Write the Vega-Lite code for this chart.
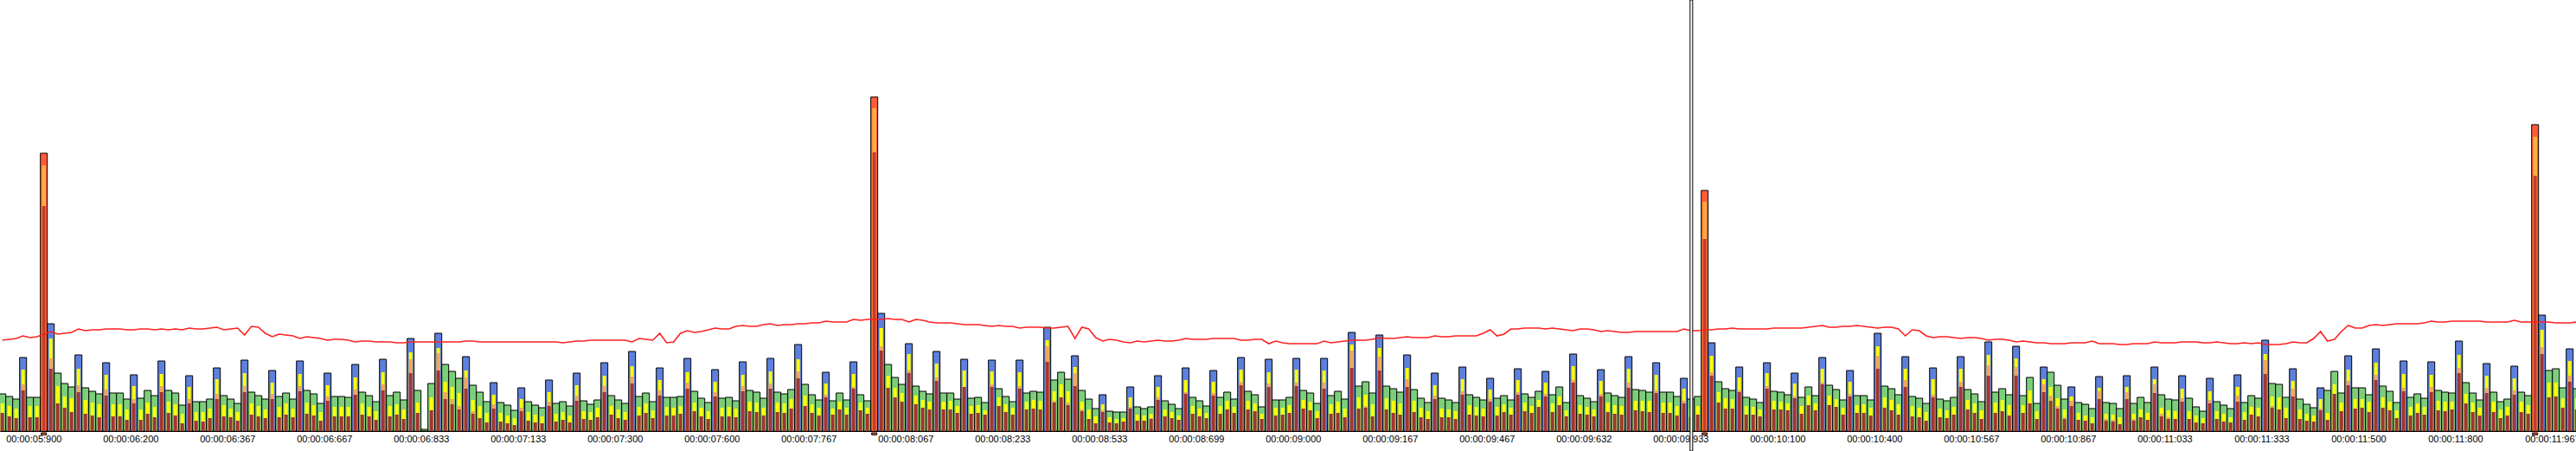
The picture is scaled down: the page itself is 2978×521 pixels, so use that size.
{
"$schema": "https://vega.github.io/schema/vega-lite/v6.json",
"width": 2978, "height": 521, "padding": 0, "autosize": "none",
"background": "white",
"config": {"view": {"stroke": null}},
"data": {"values": [
{"f":0,"k":"g","t":43,"r":21,"o":21,"yl":32,"a":105},
{"f":1,"k":"g","t":40,"r":17,"o":17,"yl":29,"a":106},
{"f":2,"k":"g","t":37,"r":15,"o":15,"yl":26,"a":107},
{"f":3,"k":"b","t":85,"r":47,"o":54,"yl":71,"a":110},
{"f":4,"k":"g","t":39,"r":16,"o":16,"yl":29,"a":108},
{"f":5,"k":"g","t":39,"r":16,"o":16,"yl":29,"a":109},
{"f":6,"k":"s","t":321,"r":260,"o":307,"yl":307,"a":112},
{"f":7,"k":"b","t":124,"r":72,"o":84,"yl":107,"a":115},
{"f":8,"k":"g","t":67,"r":32,"o":32,"yl":52,"a":112},
{"f":9,"k":"g","t":55,"r":27,"o":27,"yl":40,"a":113},
{"f":10,"k":"g","t":51,"r":22,"o":22,"yl":38,"a":114},
{"f":11,"k":"b","t":88,"r":45,"o":53,"yl":72,"a":118},
{"f":12,"k":"g","t":50,"r":20,"o":20,"yl":36,"a":116},
{"f":13,"k":"g","t":46,"r":18,"o":18,"yl":33,"a":117},
{"f":14,"k":"g","t":43,"r":16,"o":16,"yl":31,"a":117},
{"f":15,"k":"b","t":79,"r":41,"o":48,"yl":65,"a":118},
{"f":16,"k":"g","t":44,"r":17,"o":17,"yl":31,"a":118},
{"f":17,"k":"g","t":44,"r":17,"o":17,"yl":31,"a":118},
{"f":18,"k":"g","t":37,"r":13,"o":13,"yl":25,"a":117},
{"f":19,"k":"b","t":65,"r":32,"o":37,"yl":52,"a":117},
{"f":20,"k":"g","t":38,"r":13,"o":13,"yl":25,"a":118},
{"f":21,"k":"g","t":47,"r":20,"o":20,"yl":33,"a":118},
{"f":22,"k":"g","t":41,"r":16,"o":16,"yl":28,"a":117},
{"f":23,"k":"b","t":81,"r":45,"o":52,"yl":66,"a":118},
{"f":24,"k":"g","t":47,"r":21,"o":21,"yl":34,"a":117},
{"f":25,"k":"g","t":44,"r":18,"o":18,"yl":31,"a":118},
{"f":26,"k":"g","t":30,"r":9,"o":9,"yl":20,"a":117},
{"f":27,"k":"b","t":64,"r":32,"o":37,"yl":51,"a":119},
{"f":28,"k":"g","t":34,"r":12,"o":12,"yl":22,"a":118},
{"f":29,"k":"g","t":34,"r":11,"o":11,"yl":22,"a":118},
{"f":30,"k":"g","t":37,"r":15,"o":15,"yl":26,"a":119},
{"f":31,"k":"b","t":73,"r":37,"o":43,"yl":60,"a":120},
{"f":32,"k":"g","t":41,"r":17,"o":17,"yl":30,"a":117},
{"f":33,"k":"g","t":37,"r":16,"o":16,"yl":26,"a":118},
{"f":34,"k":"g","t":32,"r":12,"o":12,"yl":22,"a":119},
{"f":35,"k":"b","t":82,"r":45,"o":52,"yl":67,"a":111},
{"f":36,"k":"g","t":45,"r":19,"o":19,"yl":32,"a":121},
{"f":37,"k":"g","t":41,"r":17,"o":17,"yl":29,"a":120},
{"f":38,"k":"g","t":37,"r":15,"o":15,"yl":25,"a":113},
{"f":39,"k":"b","t":70,"r":37,"o":43,"yl":56,"a":109},
{"f":40,"k":"g","t":40,"r":16,"o":16,"yl":28,"a":112},
{"f":41,"k":"g","t":44,"r":19,"o":19,"yl":32,"a":111},
{"f":42,"k":"g","t":37,"r":16,"o":16,"yl":26,"a":110},
{"f":43,"k":"b","t":81,"r":46,"o":52,"yl":66,"a":107},
{"f":44,"k":"g","t":47,"r":20,"o":20,"yl":33,"a":109},
{"f":45,"k":"g","t":43,"r":18,"o":18,"yl":30,"a":108},
{"f":46,"k":"g","t":32,"r":12,"o":12,"yl":22,"a":107},
{"f":47,"k":"b","t":67,"r":35,"o":40,"yl":53,"a":105},
{"f":48,"k":"g","t":40,"r":17,"o":17,"yl":28,"a":106},
{"f":49,"k":"g","t":40,"r":17,"o":17,"yl":28,"a":106},
{"f":50,"k":"g","t":39,"r":17,"o":17,"yl":28,"a":105},
{"f":51,"k":"b","t":77,"r":42,"o":48,"yl":62,"a":103},
{"f":52,"k":"g","t":45,"r":19,"o":19,"yl":32,"a":104},
{"f":53,"k":"g","t":41,"r":17,"o":17,"yl":28,"a":104},
{"f":54,"k":"g","t":34,"r":13,"o":13,"yl":23,"a":103},
{"f":55,"k":"b","t":83,"r":47,"o":54,"yl":68,"a":103},
{"f":56,"k":"g","t":41,"r":17,"o":17,"yl":29,"a":103},
{"f":57,"k":"g","t":45,"r":19,"o":19,"yl":31,"a":102},
{"f":58,"k":"g","t":36,"r":14,"o":14,"yl":25,"a":102},
{"f":59,"k":"b","t":107,"r":67,"o":83,"yl":91,"a":103},
{"f":60,"k":"g","t":47,"r":21,"o":21,"yl":33,"a":103},
{"f":61,"k":"g","t":2,"r":0,"o":0,"yl":0,"a":103},
{"f":62,"k":"g","t":55,"r":24,"o":24,"yl":39,"a":103},
{"f":63,"k":"b","t":113,"r":70,"o":90,"yl":96,"a":103},
{"f":64,"k":"g","t":77,"r":37,"o":45,"yl":57,"a":103},
{"f":65,"k":"g","t":69,"r":31,"o":37,"yl":51,"a":103},
{"f":66,"k":"g","t":61,"r":25,"o":29,"yl":44,"a":103},
{"f":67,"k":"b","t":86,"r":49,"o":62,"yl":70,"a":104},
{"f":68,"k":"g","t":53,"r":20,"o":23,"yl":36,"a":104},
{"f":69,"k":"g","t":45,"r":15,"o":15,"yl":29,"a":103},
{"f":70,"k":"g","t":34,"r":10,"o":10,"yl":21,"a":103},
{"f":71,"k":"b","t":56,"r":26,"o":31,"yl":42,"a":103},
{"f":72,"k":"g","t":33,"r":11,"o":11,"yl":21,"a":103},
{"f":73,"k":"g","t":30,"r":9,"o":9,"yl":18,"a":103},
{"f":74,"k":"g","t":24,"r":7,"o":7,"yl":15,"a":103},
{"f":75,"k":"b","t":50,"r":23,"o":27,"yl":37,"a":103},
{"f":76,"k":"g","t":34,"r":12,"o":12,"yl":22,"a":103},
{"f":77,"k":"g","t":30,"r":10,"o":10,"yl":19,"a":103},
{"f":78,"k":"g","t":27,"r":9,"o":9,"yl":17,"a":103},
{"f":79,"k":"b","t":59,"r":29,"o":34,"yl":45,"a":103},
{"f":80,"k":"g","t":32,"r":11,"o":11,"yl":20,"a":103},
{"f":81,"k":"g","t":34,"r":13,"o":13,"yl":22,"a":102},
{"f":82,"k":"g","t":29,"r":10,"o":10,"yl":18,"a":103},
{"f":83,"k":"b","t":67,"r":35,"o":41,"yl":53,"a":104},
{"f":84,"k":"g","t":35,"r":14,"o":14,"yl":23,"a":104},
{"f":85,"k":"g","t":31,"r":13,"o":13,"yl":22,"a":105},
{"f":86,"k":"g","t":36,"r":16,"o":16,"yl":27,"a":105},
{"f":87,"k":"b","t":79,"r":45,"o":52,"yl":64,"a":105},
{"f":88,"k":"g","t":41,"r":19,"o":19,"yl":29,"a":105},
{"f":89,"k":"g","t":36,"r":15,"o":15,"yl":25,"a":105},
{"f":90,"k":"g","t":32,"r":13,"o":13,"yl":22,"a":105},
{"f":91,"k":"b","t":92,"r":55,"o":63,"yl":75,"a":103},
{"f":92,"k":"g","t":40,"r":18,"o":18,"yl":28,"a":107},
{"f":93,"k":"g","t":44,"r":21,"o":21,"yl":32,"a":106},
{"f":94,"k":"g","t":34,"r":15,"o":15,"yl":24,"a":105},
{"f":95,"k":"b","t":73,"r":41,"o":47,"yl":59,"a":113},
{"f":96,"k":"g","t":39,"r":18,"o":18,"yl":28,"a":102},
{"f":97,"k":"g","t":39,"r":18,"o":18,"yl":27,"a":103},
{"f":98,"k":"g","t":40,"r":20,"o":20,"yl":29,"a":113},
{"f":99,"k":"b","t":84,"r":49,"o":56,"yl":68,"a":116},
{"f":100,"k":"g","t":46,"r":23,"o":23,"yl":33,"a":114},
{"f":101,"k":"g","t":38,"r":17,"o":17,"yl":27,"a":115},
{"f":102,"k":"g","t":33,"r":14,"o":14,"yl":23,"a":117},
{"f":103,"k":"b","t":71,"r":40,"o":45,"yl":57,"a":119},
{"f":104,"k":"g","t":38,"r":17,"o":17,"yl":27,"a":118},
{"f":105,"k":"g","t":39,"r":17,"o":17,"yl":28,"a":118},
{"f":106,"k":"g","t":35,"r":16,"o":16,"yl":26,"a":121},
{"f":107,"k":"b","t":80,"r":46,"o":52,"yl":65,"a":122},
{"f":108,"k":"g","t":47,"r":23,"o":23,"yl":34,"a":121},
{"f":109,"k":"g","t":45,"r":22,"o":22,"yl":33,"a":121},
{"f":110,"k":"g","t":38,"r":18,"o":18,"yl":27,"a":123},
{"f":111,"k":"b","t":84,"r":49,"o":55,"yl":69,"a":124},
{"f":112,"k":"g","t":45,"r":22,"o":22,"yl":33,"a":122},
{"f":113,"k":"g","t":43,"r":21,"o":21,"yl":32,"a":123},
{"f":114,"k":"g","t":48,"r":26,"o":26,"yl":37,"a":123},
{"f":115,"k":"b","t":100,"r":61,"o":69,"yl":83,"a":124},
{"f":116,"k":"g","t":54,"r":29,"o":29,"yl":41,"a":124},
{"f":117,"k":"g","t":42,"r":21,"o":21,"yl":31,"a":125},
{"f":118,"k":"g","t":36,"r":18,"o":18,"yl":27,"a":125},
{"f":119,"k":"b","t":68,"r":39,"o":42,"yl":55,"a":127},
{"f":120,"k":"g","t":35,"r":19,"o":19,"yl":26,"a":126},
{"f":121,"k":"g","t":44,"r":25,"o":25,"yl":34,"a":126},
{"f":122,"k":"g","t":36,"r":19,"o":19,"yl":27,"a":126},
{"f":123,"k":"b","t":80,"r":49,"o":51,"yl":66,"a":129},
{"f":124,"k":"g","t":42,"r":24,"o":24,"yl":33,"a":128},
{"f":125,"k":"g","t":35,"r":20,"o":20,"yl":27,"a":129},
{"f":126,"k":"s","t":386,"r":322,"o":373,"yl":373,"a":129},
{"f":127,"k":"b","t":136,"r":93,"o":98,"yl":119,"a":129},
{"f":128,"k":"g","t":77,"r":50,"o":50,"yl":64,"a":130},
{"f":129,"k":"g","t":62,"r":39,"o":39,"yl":50,"a":129},
{"f":130,"k":"g","t":54,"r":34,"o":34,"yl":44,"a":129},
{"f":131,"k":"b","t":101,"r":67,"o":70,"yl":89,"a":126},
{"f":132,"k":"g","t":52,"r":31,"o":31,"yl":41,"a":129},
{"f":133,"k":"g","t":46,"r":27,"o":27,"yl":36,"a":128},
{"f":134,"k":"g","t":43,"r":25,"o":25,"yl":34,"a":126},
{"f":135,"k":"b","t":92,"r":58,"o":62,"yl":78,"a":125},
{"f":136,"k":"g","t":44,"r":25,"o":25,"yl":34,"a":125},
{"f":137,"k":"g","t":44,"r":25,"o":25,"yl":35,"a":125},
{"f":138,"k":"g","t":37,"r":21,"o":21,"yl":29,"a":124},
{"f":139,"k":"b","t":83,"r":51,"o":51,"yl":70,"a":123},
{"f":140,"k":"g","t":38,"r":20,"o":20,"yl":29,"a":123},
{"f":141,"k":"g","t":39,"r":21,"o":21,"yl":30,"a":123},
{"f":142,"k":"g","t":33,"r":19,"o":19,"yl":24,"a":122},
{"f":143,"k":"b","t":82,"r":51,"o":54,"yl":69,"a":121},
{"f":144,"k":"g","t":49,"r":29,"o":29,"yl":39,"a":122},
{"f":145,"k":"g","t":40,"r":22,"o":22,"yl":31,"a":121},
{"f":146,"k":"g","t":34,"r":19,"o":19,"yl":27,"a":121},
{"f":147,"k":"b","t":82,"r":49,"o":52,"yl":68,"a":119},
{"f":148,"k":"g","t":44,"r":25,"o":25,"yl":34,"a":120},
{"f":149,"k":"g","t":46,"r":26,"o":26,"yl":36,"a":120},
{"f":150,"k":"g","t":45,"r":25,"o":25,"yl":35,"a":120},
{"f":151,"k":"b","t":120,"r":80,"o":98,"yl":105,"a":119},
{"f":152,"k":"g","t":59,"r":33,"o":35,"yl":46,"a":119},
{"f":153,"k":"g","t":68,"r":39,"o":39,"yl":54,"a":120},
{"f":154,"k":"g","t":60,"r":30,"o":33,"yl":46,"a":121},
{"f":155,"k":"b","t":87,"r":52,"o":67,"yl":74,"a":107},
{"f":156,"k":"g","t":47,"r":23,"o":25,"yl":34,"a":120},
{"f":157,"k":"g","t":37,"r":14,"o":14,"yl":25,"a":118},
{"f":158,"k":"g","t":26,"r":9,"o":9,"yl":17,"a":108},
{"f":159,"k":"b","t":42,"r":22,"o":24,"yl":31,"a":104},
{"f":160,"k":"g","t":23,"r":10,"o":10,"yl":16,"a":106},
{"f":161,"k":"g","t":22,"r":9,"o":9,"yl":14,"a":105},
{"f":162,"k":"g","t":22,"r":11,"o":11,"yl":15,"a":103},
{"f":163,"k":"b","t":51,"r":26,"o":28,"yl":39,"a":102},
{"f":164,"k":"g","t":28,"r":12,"o":12,"yl":19,"a":104},
{"f":165,"k":"g","t":26,"r":12,"o":12,"yl":18,"a":103},
{"f":166,"k":"g","t":28,"r":14,"o":15,"yl":20,"a":104},
{"f":167,"k":"b","t":64,"r":36,"o":39,"yl":51,"a":105},
{"f":168,"k":"g","t":35,"r":17,"o":17,"yl":25,"a":104},
{"f":169,"k":"g","t":31,"r":15,"o":15,"yl":22,"a":104},
{"f":170,"k":"g","t":26,"r":13,"o":13,"yl":18,"a":105},
{"f":171,"k":"b","t":73,"r":43,"o":45,"yl":59,"a":107},
{"f":172,"k":"g","t":39,"r":20,"o":20,"yl":29,"a":106},
{"f":173,"k":"g","t":35,"r":17,"o":17,"yl":26,"a":106},
{"f":174,"k":"g","t":29,"r":15,"o":15,"yl":21,"a":106},
{"f":175,"k":"b","t":70,"r":41,"o":44,"yl":57,"a":107},
{"f":176,"k":"g","t":39,"r":20,"o":20,"yl":29,"a":107},
{"f":177,"k":"g","t":45,"r":25,"o":25,"yl":35,"a":107},
{"f":178,"k":"g","t":37,"r":21,"o":21,"yl":28,"a":107},
{"f":179,"k":"b","t":85,"r":53,"o":57,"yl":71,"a":105},
{"f":180,"k":"g","t":46,"r":25,"o":25,"yl":35,"a":105},
{"f":181,"k":"g","t":42,"r":23,"o":23,"yl":32,"a":106},
{"f":182,"k":"g","t":28,"r":14,"o":14,"yl":20,"a":106},
{"f":183,"k":"b","t":83,"r":51,"o":55,"yl":68,"a":101},
{"f":184,"k":"g","t":36,"r":18,"o":18,"yl":27,"a":104},
{"f":185,"k":"g","t":36,"r":19,"o":19,"yl":27,"a":102},
{"f":186,"k":"g","t":39,"r":21,"o":21,"yl":30,"a":101},
{"f":187,"k":"b","t":84,"r":52,"o":56,"yl":71,"a":101},
{"f":188,"k":"g","t":47,"r":26,"o":26,"yl":36,"a":101},
{"f":189,"k":"g","t":44,"r":24,"o":24,"yl":34,"a":101},
{"f":190,"k":"g","t":32,"r":15,"o":15,"yl":23,"a":101},
{"f":191,"k":"b","t":84,"r":49,"o":56,"yl":70,"a":104},
{"f":192,"k":"g","t":41,"r":20,"o":20,"yl":31,"a":102},
{"f":193,"k":"g","t":46,"r":21,"o":21,"yl":34,"a":103},
{"f":194,"k":"g","t":37,"r":16,"o":16,"yl":26,"a":104},
{"f":195,"k":"b","t":114,"r":73,"o":93,"yl":100,"a":105},
{"f":196,"k":"g","t":52,"r":26,"o":26,"yl":39,"a":105},
{"f":197,"k":"g","t":57,"r":27,"o":29,"yl":42,"a":105},
{"f":198,"k":"g","t":44,"r":17,"o":17,"yl":31,"a":106},
{"f":199,"k":"b","t":111,"r":70,"o":86,"yl":96,"a":108},
{"f":200,"k":"g","t":52,"r":25,"o":25,"yl":38,"a":107},
{"f":201,"k":"g","t":49,"r":21,"o":21,"yl":35,"a":107},
{"f":202,"k":"g","t":45,"r":19,"o":19,"yl":32,"a":108},
{"f":203,"k":"b","t":88,"r":51,"o":60,"yl":73,"a":109},
{"f":204,"k":"g","t":48,"r":22,"o":22,"yl":35,"a":108},
{"f":205,"k":"g","t":38,"r":16,"o":16,"yl":27,"a":108},
{"f":206,"k":"g","t":33,"r":14,"o":14,"yl":23,"a":108},
{"f":207,"k":"b","t":67,"r":37,"o":41,"yl":53,"a":110},
{"f":208,"k":"g","t":38,"r":16,"o":16,"yl":26,"a":109},
{"f":209,"k":"g","t":36,"r":16,"o":16,"yl":25,"a":109},
{"f":210,"k":"g","t":33,"r":14,"o":14,"yl":23,"a":110},
{"f":211,"k":"b","t":74,"r":42,"o":46,"yl":60,"a":110},
{"f":212,"k":"g","t":42,"r":19,"o":19,"yl":30,"a":110},
{"f":213,"k":"g","t":39,"r":18,"o":18,"yl":28,"a":110},
{"f":214,"k":"g","t":36,"r":17,"o":17,"yl":26,"a":113},
{"f":215,"k":"b","t":61,"r":34,"o":37,"yl":48,"a":117},
{"f":216,"k":"g","t":38,"r":18,"o":18,"yl":28,"a":110},
{"f":217,"k":"g","t":41,"r":22,"o":22,"yl":31,"a":112},
{"f":218,"k":"g","t":36,"r":19,"o":19,"yl":27,"a":118},
{"f":219,"k":"b","t":72,"r":42,"o":45,"yl":59,"a":118},
{"f":220,"k":"g","t":43,"r":23,"o":23,"yl":33,"a":119},
{"f":221,"k":"g","t":39,"r":21,"o":21,"yl":29,"a":119},
{"f":222,"k":"g","t":46,"r":28,"o":28,"yl":36,"a":119},
{"f":223,"k":"b","t":69,"r":40,"o":43,"yl":56,"a":118},
{"f":224,"k":"g","t":42,"r":22,"o":22,"yl":32,"a":119},
{"f":225,"k":"g","t":51,"r":30,"o":30,"yl":40,"a":118},
{"f":226,"k":"g","t":33,"r":17,"o":17,"yl":24,"a":117},
{"f":227,"k":"b","t":89,"r":56,"o":59,"yl":75,"a":116},
{"f":228,"k":"g","t":41,"r":20,"o":20,"yl":30,"a":118},
{"f":229,"k":"g","t":38,"r":19,"o":19,"yl":28,"a":118},
{"f":230,"k":"g","t":34,"r":17,"o":17,"yl":25,"a":117},
{"f":231,"k":"b","t":71,"r":40,"o":43,"yl":58,"a":115},
{"f":232,"k":"g","t":44,"r":22,"o":22,"yl":33,"a":116},
{"f":233,"k":"g","t":41,"r":20,"o":20,"yl":30,"a":115},
{"f":234,"k":"g","t":39,"r":19,"o":19,"yl":29,"a":114},
{"f":235,"k":"b","t":86,"r":50,"o":56,"yl":72,"a":114},
{"f":236,"k":"g","t":48,"r":24,"o":24,"yl":35,"a":115},
{"f":237,"k":"g","t":47,"r":23,"o":23,"yl":35,"a":115},
{"f":238,"k":"g","t":45,"r":22,"o":22,"yl":35,"a":115},
{"f":239,"k":"b","t":79,"r":44,"o":47,"yl":65,"a":115},
{"f":240,"k":"g","t":45,"r":21,"o":21,"yl":33,"a":115},
{"f":241,"k":"g","t":45,"r":21,"o":21,"yl":33,"a":115},
{"f":242,"k":"g","t":40,"r":18,"o":18,"yl":29,"a":115},
{"f":243,"k":"b","t":61,"r":32,"o":35,"yl":49,"a":118},
{"f":244,"k":"g","t":37,"r":16,"o":16,"yl":26,"a":116},
{"f":245,"k":"g","t":40,"r":19,"o":19,"yl":29,"a":116},
{"f":246,"k":"s","t":278,"r":222,"o":265,"yl":265,"a":117},
{"f":247,"k":"b","t":102,"r":64,"o":68,"yl":87,"a":117},
{"f":248,"k":"g","t":57,"r":33,"o":33,"yl":45,"a":118},
{"f":249,"k":"g","t":49,"r":26,"o":26,"yl":38,"a":118},
{"f":250,"k":"g","t":47,"r":26,"o":26,"yl":37,"a":119},
{"f":251,"k":"b","t":74,"r":45,"o":47,"yl":62,"a":118},
{"f":252,"k":"g","t":39,"r":19,"o":19,"yl":29,"a":118},
{"f":253,"k":"g","t":37,"r":19,"o":19,"yl":28,"a":118},
{"f":254,"k":"g","t":33,"r":17,"o":17,"yl":25,"a":118},
{"f":255,"k":"b","t":79,"r":49,"o":52,"yl":67,"a":118},
{"f":256,"k":"g","t":46,"r":25,"o":25,"yl":35,"a":119},
{"f":257,"k":"g","t":45,"r":25,"o":25,"yl":34,"a":119},
{"f":258,"k":"g","t":42,"r":24,"o":24,"yl":32,"a":119},
{"f":259,"k":"b","t":67,"r":38,"o":40,"yl":55,"a":119},
{"f":260,"k":"g","t":39,"r":20,"o":20,"yl":29,"a":119},
{"f":261,"k":"g","t":51,"r":30,"o":30,"yl":41,"a":120},
{"f":262,"k":"g","t":41,"r":24,"o":24,"yl":32,"a":121},
{"f":263,"k":"b","t":85,"r":54,"o":56,"yl":72,"a":122},
{"f":264,"k":"g","t":53,"r":30,"o":30,"yl":41,"a":120},
{"f":265,"k":"g","t":48,"r":28,"o":28,"yl":37,"a":120},
{"f":266,"k":"g","t":36,"r":19,"o":19,"yl":27,"a":121},
{"f":267,"k":"b","t":70,"r":40,"o":43,"yl":57,"a":121},
{"f":268,"k":"g","t":41,"r":21,"o":21,"yl":30,"a":122},
{"f":269,"k":"g","t":41,"r":21,"o":21,"yl":31,"a":121},
{"f":270,"k":"g","t":36,"r":18,"o":18,"yl":27,"a":120},
{"f":271,"k":"b","t":113,"r":72,"o":87,"yl":98,"a":119},
{"f":272,"k":"g","t":52,"r":27,"o":27,"yl":39,"a":120},
{"f":273,"k":"g","t":49,"r":24,"o":24,"yl":36,"a":120},
{"f":274,"k":"g","t":42,"r":19,"o":19,"yl":31,"a":118},
{"f":275,"k":"b","t":86,"r":51,"o":59,"yl":72,"a":110},
{"f":276,"k":"g","t":40,"r":17,"o":17,"yl":29,"a":117},
{"f":277,"k":"g","t":38,"r":16,"o":16,"yl":27,"a":116},
{"f":278,"k":"g","t":32,"r":12,"o":12,"yl":22,"a":110},
{"f":279,"k":"b","t":73,"r":39,"o":42,"yl":60,"a":108},
{"f":280,"k":"g","t":37,"r":16,"o":16,"yl":26,"a":109},
{"f":281,"k":"g","t":35,"r":15,"o":15,"yl":24,"a":109},
{"f":282,"k":"g","t":39,"r":19,"o":19,"yl":28,"a":108},
{"f":283,"k":"b","t":86,"r":51,"o":57,"yl":72,"a":107},
{"f":284,"k":"g","t":48,"r":25,"o":25,"yl":36,"a":108},
{"f":285,"k":"g","t":43,"r":21,"o":21,"yl":32,"a":108},
{"f":286,"k":"g","t":34,"r":14,"o":14,"yl":24,"a":107},
{"f":287,"k":"b","t":103,"r":64,"o":76,"yl":88,"a":105},
{"f":288,"k":"g","t":45,"r":21,"o":21,"yl":33,"a":106},
{"f":289,"k":"g","t":49,"r":23,"o":23,"yl":36,"a":106},
{"f":290,"k":"g","t":42,"r":18,"o":18,"yl":30,"a":105},
{"f":291,"k":"b","t":98,"r":64,"o":74,"yl":84,"a":103},
{"f":292,"k":"g","t":41,"r":21,"o":21,"yl":30,"a":104},
{"f":293,"k":"g","t":62,"r":32,"o":32,"yl":47,"a":103},
{"f":294,"k":"g","t":32,"r":14,"o":14,"yl":23,"a":102},
{"f":295,"k":"b","t":74,"r":45,"o":54,"yl":60,"a":102},
{"f":296,"k":"g","t":68,"r":35,"o":41,"yl":51,"a":101},
{"f":297,"k":"g","t":53,"r":26,"o":29,"yl":38,"a":101},
{"f":298,"k":"g","t":37,"r":14,"o":16,"yl":25,"a":101},
{"f":299,"k":"b","t":51,"r":29,"o":35,"yl":40,"a":102},
{"f":300,"k":"g","t":33,"r":13,"o":13,"yl":21,"a":102},
{"f":301,"k":"g","t":31,"r":12,"o":12,"yl":18,"a":102},
{"f":302,"k":"g","t":26,"r":9,"o":9,"yl":16,"a":104},
{"f":303,"k":"b","t":63,"r":37,"o":46,"yl":50,"a":101},
{"f":304,"k":"g","t":33,"r":12,"o":14,"yl":20,"a":101},
{"f":305,"k":"g","t":32,"r":11,"o":13,"yl":19,"a":101},
{"f":306,"k":"g","t":26,"r":8,"o":8,"yl":16,"a":100},
{"f":307,"k":"b","t":64,"r":37,"o":45,"yl":51,"a":100},
{"f":308,"k":"g","t":32,"r":12,"o":14,"yl":20,"a":101},
{"f":309,"k":"g","t":39,"r":16,"o":16,"yl":25,"a":101},
{"f":310,"k":"g","t":33,"r":13,"o":13,"yl":21,"a":101},
{"f":311,"k":"b","t":74,"r":44,"o":54,"yl":60,"a":103},
{"f":312,"k":"g","t":42,"r":17,"o":20,"yl":27,"a":102},
{"f":313,"k":"g","t":37,"r":14,"o":16,"yl":24,"a":102},
{"f":314,"k":"g","t":36,"r":14,"o":14,"yl":23,"a":102},
{"f":315,"k":"b","t":64,"r":34,"o":38,"yl":49,"a":103},
{"f":316,"k":"g","t":38,"r":14,"o":14,"yl":23,"a":103},
{"f":317,"k":"g","t":28,"r":10,"o":10,"yl":18,"a":103},
{"f":318,"k":"g","t":23,"r":9,"o":9,"yl":15,"a":102},
{"f":319,"k":"b","t":61,"r":32,"o":36,"yl":46,"a":102},
{"f":320,"k":"g","t":34,"r":14,"o":14,"yl":23,"a":103},
{"f":321,"k":"g","t":30,"r":11,"o":11,"yl":20,"a":102},
{"f":322,"k":"g","t":26,"r":10,"o":10,"yl":16,"a":101},
{"f":323,"k":"b","t":65,"r":34,"o":41,"yl":51,"a":101},
{"f":324,"k":"g","t":33,"r":13,"o":13,"yl":22,"a":102},
{"f":325,"k":"g","t":41,"r":19,"o":19,"yl":28,"a":101},
{"f":326,"k":"g","t":38,"r":17,"o":17,"yl":27,"a":102},
{"f":327,"k":"b","t":105,"r":66,"o":82,"yl":89,"a":100},
{"f":328,"k":"g","t":55,"r":27,"o":29,"yl":40,"a":100},
{"f":329,"k":"g","t":54,"r":25,"o":25,"yl":39,"a":100},
{"f":330,"k":"g","t":39,"r":15,"o":15,"yl":27,"a":101},
{"f":331,"k":"b","t":72,"r":40,"o":49,"yl":58,"a":103},
{"f":332,"k":"g","t":37,"r":14,"o":14,"yl":25,"a":102},
{"f":333,"k":"g","t":31,"r":12,"o":12,"yl":20,"a":102},
{"f":334,"k":"g","t":27,"r":11,"o":11,"yl":18,"a":107},
{"f":335,"k":"b","t":50,"r":24,"o":26,"yl":37,"a":115},
{"f":336,"k":"g","t":47,"r":13,"o":13,"yl":21,"a":104},
{"f":337,"k":"g","t":69,"r":43,"o":43,"yl":54,"a":106},
{"f":338,"k":"g","t":44,"r":23,"o":23,"yl":33,"a":115},
{"f":339,"k":"b","t":87,"r":53,"o":58,"yl":71,"a":122},
{"f":340,"k":"g","t":50,"r":26,"o":26,"yl":37,"a":119},
{"f":341,"k":"g","t":50,"r":27,"o":27,"yl":37,"a":119},
{"f":342,"k":"g","t":42,"r":22,"o":22,"yl":34,"a":122},
{"f":343,"k":"b","t":95,"r":59,"o":65,"yl":79,"a":123},
{"f":344,"k":"g","t":52,"r":27,"o":27,"yl":39,"a":122},
{"f":345,"k":"g","t":46,"r":24,"o":24,"yl":34,"a":123},
{"f":346,"k":"g","t":33,"r":15,"o":15,"yl":24,"a":124},
{"f":347,"k":"b","t":81,"r":46,"o":50,"yl":66,"a":124},
{"f":348,"k":"g","t":39,"r":18,"o":18,"yl":28,"a":124},
{"f":349,"k":"g","t":43,"r":21,"o":21,"yl":32,"a":124},
{"f":350,"k":"g","t":38,"r":19,"o":19,"yl":28,"a":125},
{"f":351,"k":"b","t":80,"r":45,"o":51,"yl":65,"a":127},
{"f":352,"k":"g","t":47,"r":24,"o":24,"yl":35,"a":126},
{"f":353,"k":"g","t":45,"r":23,"o":23,"yl":34,"a":126},
{"f":354,"k":"g","t":44,"r":25,"o":25,"yl":34,"a":127},
{"f":355,"k":"b","t":104,"r":67,"o":73,"yl":88,"a":127},
{"f":356,"k":"g","t":56,"r":32,"o":32,"yl":43,"a":127},
{"f":357,"k":"g","t":44,"r":22,"o":22,"yl":33,"a":127},
{"f":358,"k":"g","t":36,"r":18,"o":18,"yl":27,"a":127},
{"f":359,"k":"b","t":78,"r":44,"o":50,"yl":64,"a":126},
{"f":360,"k":"g","t":45,"r":22,"o":22,"yl":34,"a":126},
{"f":361,"k":"g","t":34,"r":15,"o":15,"yl":25,"a":126},
{"f":362,"k":"g","t":37,"r":18,"o":18,"yl":28,"a":126},
{"f":363,"k":"b","t":75,"r":42,"o":47,"yl":61,"a":128},
{"f":364,"k":"g","t":45,"r":22,"o":22,"yl":34,"a":126},
{"f":365,"k":"g","t":41,"r":20,"o":20,"yl":30,"a":126},
{"f":366,"k":"s","t":354,"r":295,"o":340,"yl":340,"a":126},
{"f":367,"k":"b","t":134,"r":89,"o":97,"yl":117,"a":126},
{"f":368,"k":"g","t":70,"r":39,"o":39,"yl":56,"a":126},
{"f":369,"k":"g","t":72,"r":40,"o":40,"yl":56,"a":125},
{"f":370,"k":"g","t":50,"r":27,"o":27,"yl":38,"a":125},
{"f":371,"k":"b","t":95,"r":57,"o":64,"yl":81,"a":125},
{"f":372,"k":"g","t":49,"r":25,"o":25,"yl":38,"a":126}
]},
"encoding": {
  "x": {"field": "f", "type": "quantitative",
        "scale": {"domain": [-0.3375, 371.9125], "nice": false, "zero": false, "padding": 0},
        "axis": {"values": [0.5,14.5,28.5,42.5,56.5,70.5,84.5,98.5,112.5,126.5,140.5,154.5,168.5,182.5,196.5,210.5,224.5,238.5,252.5,266.5,280.5,294.5,308.5,322.5,336.5,350.5,364.5],
                 "labelExpr": "['00:00:05:900','00:00:06:200','00:00:06:367','00:00:06:667','00:00:06:833','00:00:07:133','00:00:07:300','00:00:07:600','00:00:07:767','00:00:08:067','00:00:08:233','00:00:08:533','00:00:08:699','00:00:09:000','00:00:09:167','00:00:09:467','00:00:09:632','00:00:09:933','00:00:10:100','00:00:10:400','00:00:10:567','00:00:10:867','00:00:11:033','00:00:11:333','00:00:11:500','00:00:11:800','00:00:11:967'][round((datum.value - 0.5) / 14)]",
                 "labelAlign": "left", "labelBaseline": "top", "labelPadding": 3,
                 "labelFont": "Liberation Sans", "labelFontSize": 11, "labelColor": "black",
                 "labelOverlap": false, "labelBound": false, "labelFlush": false,
                 "ticks": false, "grid": false, "title": null,
                 "domain": true, "domainColor": "black", "domainWidth": 1,
                 "offset": -23, "zindex": 0}}
},
"layer": [
  {"mark": {"type": "bar", "width": 8, "stroke": "black", "strokeWidth": 1},
   "encoding": {
     "y": {"field": "t", "type": "quantitative", "scale": {"domain": [-23, 498], "nice": false, "zero": false}, "axis": null},
     "color": {"field": "k", "type": "nominal", "legend": null,
               "scale": {"domain": ["g", "b", "s"], "range": ["#7DCE7A", "#5D80DD", "#FF5B37"]}}}},
  {"mark": {"type": "bar", "width": 4, "fill": "#FFFF00"},
   "encoding": {"y": {"field": "yl", "type": "quantitative", "axis": null}}},
  {"mark": {"type": "bar", "width": 4},
   "encoding": {"y": {"field": "o", "type": "quantitative", "axis": null},
     "fill": {"condition": {"test": "datum.k === 's'", "value": "#FFAA48"}, "value": "#F2A55E"}}},
  {"mark": {"type": "bar", "width": 4},
   "encoding": {"y": {"field": "r", "type": "quantitative", "axis": null},
     "fill": {"condition": {"test": "datum.k === 's'", "value": "#C53D2D"}, "value": "#A23536"}}},
  {"mark": {"type": "line", "color": "#FF2020", "strokeWidth": 1.6},
   "encoding": {"y": {"field": "a", "type": "quantitative", "axis": null}}},
  {"transform": [{"filter": "datum.k === 's'"}],
   "mark": {"type": "bar", "width": 6, "fill": "#FF5B37", "stroke": "black", "strokeWidth": 1},
   "encoding": {"y": {"datum": -2}, "y2": {"datum": -4.3}}},
  {"data": {"values": [{"f": 244.08}]},
   "mark": {"type": "bar", "width": 3, "fill": "white", "stroke": "black", "strokeWidth": 1},
   "encoding": {"y": {"datum": 498}, "y2": {"datum": -23}}}
]
}
